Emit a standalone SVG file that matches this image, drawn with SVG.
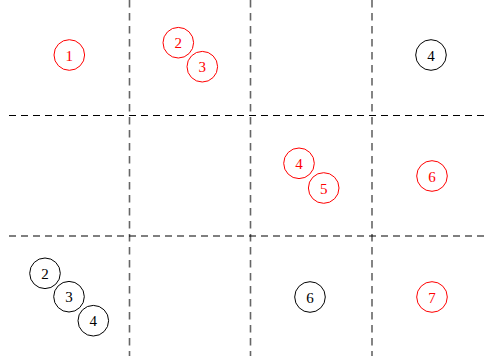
<svg xmlns="http://www.w3.org/2000/svg" width="488" height="362" viewBox="0 0 488 362">
<style>
.v{stroke:#666;stroke-width:1.6;stroke-dasharray:7.5 5.5;fill:none}
.h{stroke:#000;stroke-width:1.1;stroke-dasharray:7 5;fill:none}
circle{fill:none;stroke-width:1}
.r circle{stroke:#f00}
.k circle{stroke:#000}
text{font-family:"Liberation Serif","DejaVu Serif",serif;font-size:15px;text-anchor:middle;dominant-baseline:central}
.r text{fill:#f00}
.k text{fill:#000}
</style>
<rect width="488" height="362" fill="#fff"/>
<g id="grid">
<line class="v" x1="129.5" y1="0" x2="129.5" y2="356"/>
<line class="v" x1="250.5" y1="0" x2="250.5" y2="356"/>
<line class="v" x1="372" y1="0" x2="372" y2="356"/>
<line class="h" x1="9" y1="115.5" x2="488" y2="115.5"/>
<line class="h" x1="9" y1="236" x2="488" y2="236"/>
</g>
<g id="r1" class="r"><circle cx="69.3" cy="55" r="15.3"/><text x="69.3" y="55.5">1</text></g>
<g id="r2" class="r"><circle cx="178.3" cy="42.7" r="15.3"/><text x="178.3" y="43.2">2</text></g>
<g id="r3" class="r"><circle cx="202.3" cy="66.7" r="15.3"/><text x="202.3" y="67.2">3</text></g>
<g id="k4a" class="k"><circle cx="431" cy="55" r="15.3"/><text x="431" y="55.5">4</text></g>
<g id="r4" class="r"><circle cx="299" cy="163.3" r="15.3"/><text x="299" y="163.8">4</text></g>
<g id="r5" class="r"><circle cx="323.7" cy="188" r="15.3"/><text x="323.7" y="188.5">5</text></g>
<g id="r6" class="r"><circle cx="432" cy="176" r="15.3"/><text x="432" y="176.5">6</text></g>
<g id="k2" class="k"><circle cx="45" cy="273.3" r="15.3"/><text x="45" y="273.8">2</text></g>
<g id="k3" class="k"><circle cx="69" cy="296.7" r="15.3"/><text x="69" y="297.2">3</text></g>
<g id="k4b" class="k"><circle cx="93.3" cy="320.7" r="15.3"/><text x="93.3" y="321.2">4</text></g>
<g id="k6" class="k"><circle cx="310" cy="297" r="15.3"/><text x="310" y="297.5">6</text></g>
<g id="r7" class="r"><circle cx="432" cy="297" r="15.3"/><text x="432" y="297.5">7</text></g>
</svg>
